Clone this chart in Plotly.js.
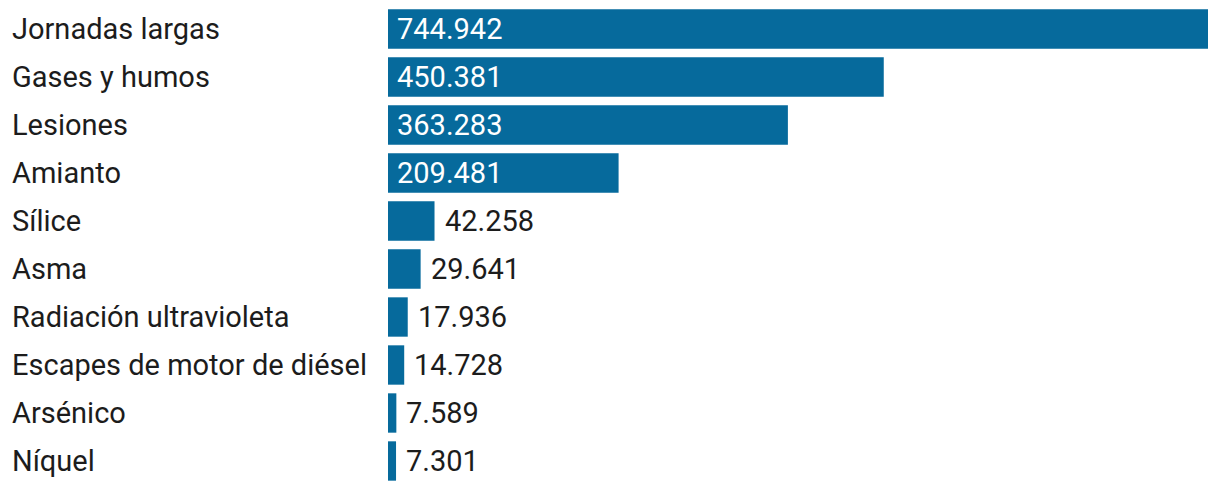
<!DOCTYPE html>
<html>
<head>
<meta charset="utf-8">
<script src="https://cdn.plot.ly/plotly-3.0.1.min.js"></script>
<style>html,body{margin:0;padding:0;background:#fff;}#chart{width:1220px;height:492px;}</style>
</head>
<body>
<div id="chart"></div>
<script>
const categories = ["Jornadas largas","Gases y humos","Lesiones","Amianto","Sílice","Asma","Radiación ultravioleta","Escapes de motor de diésel","Arsénico","Níquel"];
const values = [744942,450381,363283,209481,42258,29641,17936,14728,7589,7301];
const valueLabels = ["744.942","450.381","363.283","209.481","42.258","29.641","17.936","14.728","7.589","7.301"];

const W = 1220, H = 492;
const margin = {l:388, r:12, t:5, b:7};
const plotW = W - margin.l - margin.r;
const FONT = "Roboto, 'Liberation Sans', sans-serif";
const BAR = "#066a9c";
const TXT = "#1c1c1c";

const annotations = [];
categories.forEach((c, i) => {
  annotations.push({
    xref: 'paper', yref: 'y', x: -(margin.l - 10) / plotW, y: c,
    xanchor: 'left', yanchor: 'middle', showarrow: false,
    text: c, font: {family: FONT, size: 29, color: TXT}
  });
  const inside = values[i] > 100000;
  annotations.push({
    xref: 'x', yref: 'y', x: inside ? 0 : values[i], y: c,
    xanchor: 'left', yanchor: 'middle', showarrow: false,
    xshift: inside ? 7 : 8,
    text: valueLabels[i], font: {family: FONT, size: 29, color: inside ? '#ffffff' : TXT}
  });
});

const data = [{
  type: 'bar', orientation: 'h',
  x: values, y: categories,
  marker: {color: BAR},
  hoverinfo: 'none'
}];

const layout = {
  width: W, height: H,
  margin: margin,
  paper_bgcolor: '#fff', plot_bgcolor: '#fff',
  bargap: 0.18,
  showlegend: false,
  xaxis: {range: [0, 744942], visible: false, fixedrange: true},
  yaxis: {autorange: 'reversed', showticklabels: false, showgrid: false, zeroline: false, showline: false, ticks: '', fixedrange: true},
  annotations: annotations
};

Plotly.newPlot('chart', data, layout, {displayModeBar: false, staticPlot: true});
</script>
</body>
</html>
